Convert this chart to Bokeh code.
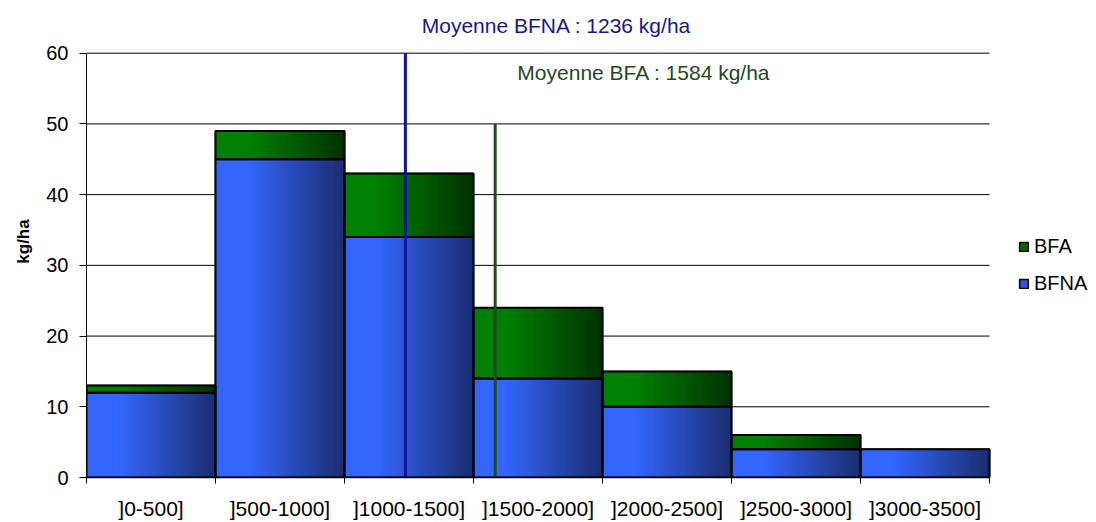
import numpy as np
from bokeh.plotting import figure
from bokeh.models import (ColumnDataSource, FixedTicker, Label, Legend, LegendItem,
                          Range1d)
from bokeh.embed import file_html
from bokeh.resources import INLINE

# ---------------- data ----------------
categories = ["]0-500]", "]500-1000]", "]1000-1500]", "]1500-2000]",
              "]2000-2500]", "]2500-3000]", "]3000-3500]"]
bin_edges = [0, 500, 1000, 1500, 2000, 2500, 3000, 3500]
bfna = [12, 45, 34, 14, 10, 4, 4]
bfa = [1, 4, 9, 10, 5, 2, 0]
mean_bfna = 1236
mean_bfa = 1584
mean_bfna_top = 60
mean_bfa_top = 50
y_ticks = [0, 10, 20, 30, 40, 50, 60]

FONT = "Liberation Sans"

# ---------------- layout (pixels) ----------------
W, H = 1096, 522
LEFT, TOP, BOTTOM = 86, 5, 42
AXIS_W_PX = 903      # pixels spanned by 0..3500
AXIS_H_PX = 427      # pixels spanned by 0..60
x_max, y_max = bin_edges[-1], y_ticks[-1]
x_end = x_max * (W - LEFT) / AXIS_W_PX
y_end = y_max * (H - TOP - BOTTOM) / AXIS_H_PX

BLUE_LIGHT = (51, 102, 255)
BLUE_DARK = (27, 45, 112)
GREEN_LIGHT = (0, 128, 0)
GREEN_DARK = (0, 50, 0)


def hexc(c):
    return "#%02x%02x%02x" % tuple(int(round(v)) for v in c)


def shade(c1, c2, t):
    f = 0.0 if t < 0.25 else (t - 0.25) / 0.75
    return hexc([a + (b - a) * f for a, b in zip(c1, c2)])


p = figure(width=W, height=H, output_backend="svg", toolbar_location=None,
           x_range=Range1d(0, x_end), y_range=Range1d(0, y_end),
           min_border_left=LEFT, min_border_right=0, min_border_top=TOP,
           min_border_bottom=BOTTOM)
p.outline_line_color = None
p.background_fill_color = "white"
p.border_fill_color = "white"

# horizontal gridlines
grid_y = y_ticks[1:]
p.segment(x0=[0] * len(grid_y), y0=grid_y, x1=[x_max] * len(grid_y), y1=grid_y,
          line_color="black", line_width=1)

left = bin_edges[:-1]
right = bin_edges[1:]
bfna_arr = np.array(bfna, dtype=float)
bfa_arr = np.array(bfa, dtype=float)
totals = bfna_arr + bfa_arr

# base (legend) quads
src_blue = ColumnDataSource(dict(left=left, right=right, bottom=[0] * len(bfna), top=bfna))
mask = bfa_arr > 0
src_green = ColumnDataSource(dict(left=list(np.array(left)[mask]), right=list(np.array(right)[mask]),
                                  bottom=list(bfna_arr[mask]), top=list(totals[mask])))
base_blue = p.quad(left="left", right="right", bottom="bottom", top="top", source=src_blue,
                   fill_color="#2f55d8", line_color="black", line_width=1.5)
base_green = p.quad(left="left", right="right", bottom="bottom", top="top", source=src_green,
                    fill_color="#006a00", line_color="black", line_width=1.5)

# gradient slices
N = 40


def slices(src, c1, c2):
    d = src.data
    L, R, B, T, C = [], [], [], [], []
    for l, r, b, t in zip(d["left"], d["right"], d["bottom"], d["top"]):
        w = (r - l) / N
        for k in range(N):
            L.append(l + k * w)
            R.append(min(r, l + (k + 1.6) * w))
            B.append(b)
            T.append(t)
            C.append(shade(c1, c2, (k + 0.5) / N))
    return ColumnDataSource(dict(left=L, right=R, bottom=B, top=T, color=C))


p.quad(left="left", right="right", bottom="bottom", top="top", fill_color="color",
       line_color=None, source=slices(src_blue, BLUE_LIGHT, BLUE_DARK))
p.quad(left="left", right="right", bottom="bottom", top="top", fill_color="color",
       line_color=None, source=slices(src_green, GREEN_LIGHT, GREEN_DARK))

# outlines
p.quad(left="left", right="right", bottom="bottom", top="top", source=src_blue,
       fill_color=None, line_color="black", line_width=2)
p.quad(left="left", right="right", bottom="bottom", top="top", source=src_green,
       fill_color=None, line_color="black", line_width=2)

# mean lines
p.segment(x0=[mean_bfna], y0=[0], x1=[mean_bfna], y1=[mean_bfna_top],
          line_color="#0b1697", line_width=3)
p.segment(x0=[mean_bfa], y0=[0], x1=[mean_bfa], y1=[mean_bfa_top],
          line_color="#1f4a1f", line_width=3)

p.add_layout(Label(x=1822, y=63.9, text="Moyenne BFNA : %d kg/ha" % mean_bfna,
                   text_align="center", text_baseline="middle",
                   text_font=FONT, text_font_size="21px", text_color="#17178a"))
p.add_layout(Label(x=2161, y=57.3, text="Moyenne BFA : %d kg/ha" % mean_bfa,
                   text_align="center", text_baseline="middle",
                   text_font=FONT, text_font_size="21px", text_color="#1e4a1e"))

# axes
centers = [(a + b) / 2 for a, b in zip(left, right)]
p.xaxis.bounds = (0, x_max)
p.xaxis.ticker = FixedTicker(ticks=centers, minor_ticks=bin_edges)
p.xaxis.major_label_overrides = {c: lab for c, lab in zip(centers, categories)}
p.xaxis.major_tick_out = 0
p.xaxis.major_tick_in = 0
p.xaxis.minor_tick_out = 6
p.xaxis.minor_tick_in = 0
p.xaxis.minor_tick_line_color = "black"
p.xaxis.axis_line_color = "black"
p.xaxis.axis_line_width = 1.5
p.xaxis.major_label_standoff = 13
p.xaxis.major_label_text_font = FONT
p.xaxis.major_label_text_font_size = "21px"
p.xaxis.major_label_text_color = "black"

p.yaxis.bounds = (0, y_max)
p.yaxis.ticker = FixedTicker(ticks=y_ticks, minor_ticks=[])
p.yaxis.major_tick_out = 7
p.yaxis.major_tick_in = 0
p.yaxis.major_tick_line_color = "black"
p.yaxis.axis_line_color = "black"
p.yaxis.major_label_standoff = 11
p.yaxis.major_label_text_font = FONT
p.yaxis.major_label_text_font_size = "20px"
p.yaxis.major_label_text_color = "black"
p.yaxis.axis_label = "kg/ha"
p.yaxis.axis_label_text_font = FONT
p.yaxis.axis_label_text_font_size = "17px"
p.yaxis.axis_label_text_font_style = "bold"
p.yaxis.axis_label_text_color = "black"
p.yaxis.axis_label_standoff = 10

p.xgrid.visible = False
p.ygrid.visible = False

legend = Legend(items=[LegendItem(label="BFA", renderers=[base_green]),
                       LegendItem(label="BFNA", renderers=[base_blue])],
                location=(932, 182), orientation="vertical")
legend.border_line_color = None
legend.background_fill_alpha = 0
legend.glyph_width = 11
legend.glyph_height = 11
legend.label_text_font = FONT
legend.label_text_font_size = "20px"
legend.label_text_color = "black"
legend.label_standoff = 5
legend.spacing = 14
legend.padding = 0
legend.margin = 0
p.add_layout(legend)

open("out.html", "w").write(file_html(p, INLINE))
